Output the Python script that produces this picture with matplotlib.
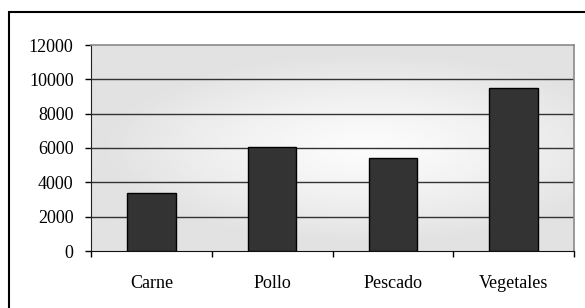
import numpy as np
import matplotlib.pyplot as plt
from matplotlib.patches import Rectangle

categories = ["Carne", "Pollo", "Pescado", "Vegetales"]
values = [3400, 6050, 5400, 9500]
yticks = [0, 2000, 4000, 6000, 8000, 10000, 12000]

plt.rcParams["font.family"] = ["Liberation Serif", "DejaVu Serif"]

W, H = 585, 308
fig = plt.figure(figsize=(W / 100, H / 100), dpi=100)

# outer chart border (right and bottom run off the image)
fig.patches.append(Rectangle((9 / W, -0.1), 1.2, (H - 12) / H + 0.1,
                             transform=fig.transFigure, fill=False,
                             edgecolor="black", linewidth=1.5))

ax = fig.add_axes([91 / W, (H - 251) / H, 483 / W, 206 / H])

# radial gray gradient background, lightest a bit right of centre
gx, gy = np.meshgrid(np.linspace(-1, 1, 300), np.linspace(-1, 1, 200))
r = np.clip(np.sqrt((gx - 0.15) ** 2 + (gy * 1.2) ** 2) / 1.1, 0, 1)
shade = 0.985 - 0.10 * r ** 1.3
ax.imshow(shade, cmap="gray", vmin=0, vmax=1, extent=[0, 1, 0, 1],
          transform=ax.transAxes, aspect="auto", zorder=0, interpolation="bilinear")

x = np.arange(len(categories))
ax.bar(x, values, width=0.4, color="#333333", edgecolor="black",
       linewidth=1.0, zorder=3)

ax.set_xlim(-0.5, len(categories) - 0.5)
ax.set_ylim(0, 12000)
ax.set_yticks(yticks)
ax.set_yticklabels([str(v) for v in yticks])
for v in yticks[1:-1]:
    ax.axhline(v, color="#333333", linewidth=1.0, zorder=2)

ax.set_xticks(x)
ax.set_xticklabels(categories)
ax.set_xticks(np.arange(len(categories) + 1) - 0.5, minor=True)
ax.tick_params(axis="x", which="major", length=0, pad=17, labelsize=13)
ax.tick_params(axis="x", which="minor", length=4.5, width=1, direction="out")
ax.tick_params(axis="y", length=4.5, width=1, pad=8, labelsize=13)

ax.spines["top"].set_color("#8a8a8a")
ax.spines["right"].set_color("#8a8a8a")
ax.spines["top"].set_linewidth(1.2)
ax.spines["right"].set_linewidth(1.2)
ax.spines["left"].set_color("#222222")
ax.spines["bottom"].set_color("#111111")

fig.savefig("out.png", dpi=100)
